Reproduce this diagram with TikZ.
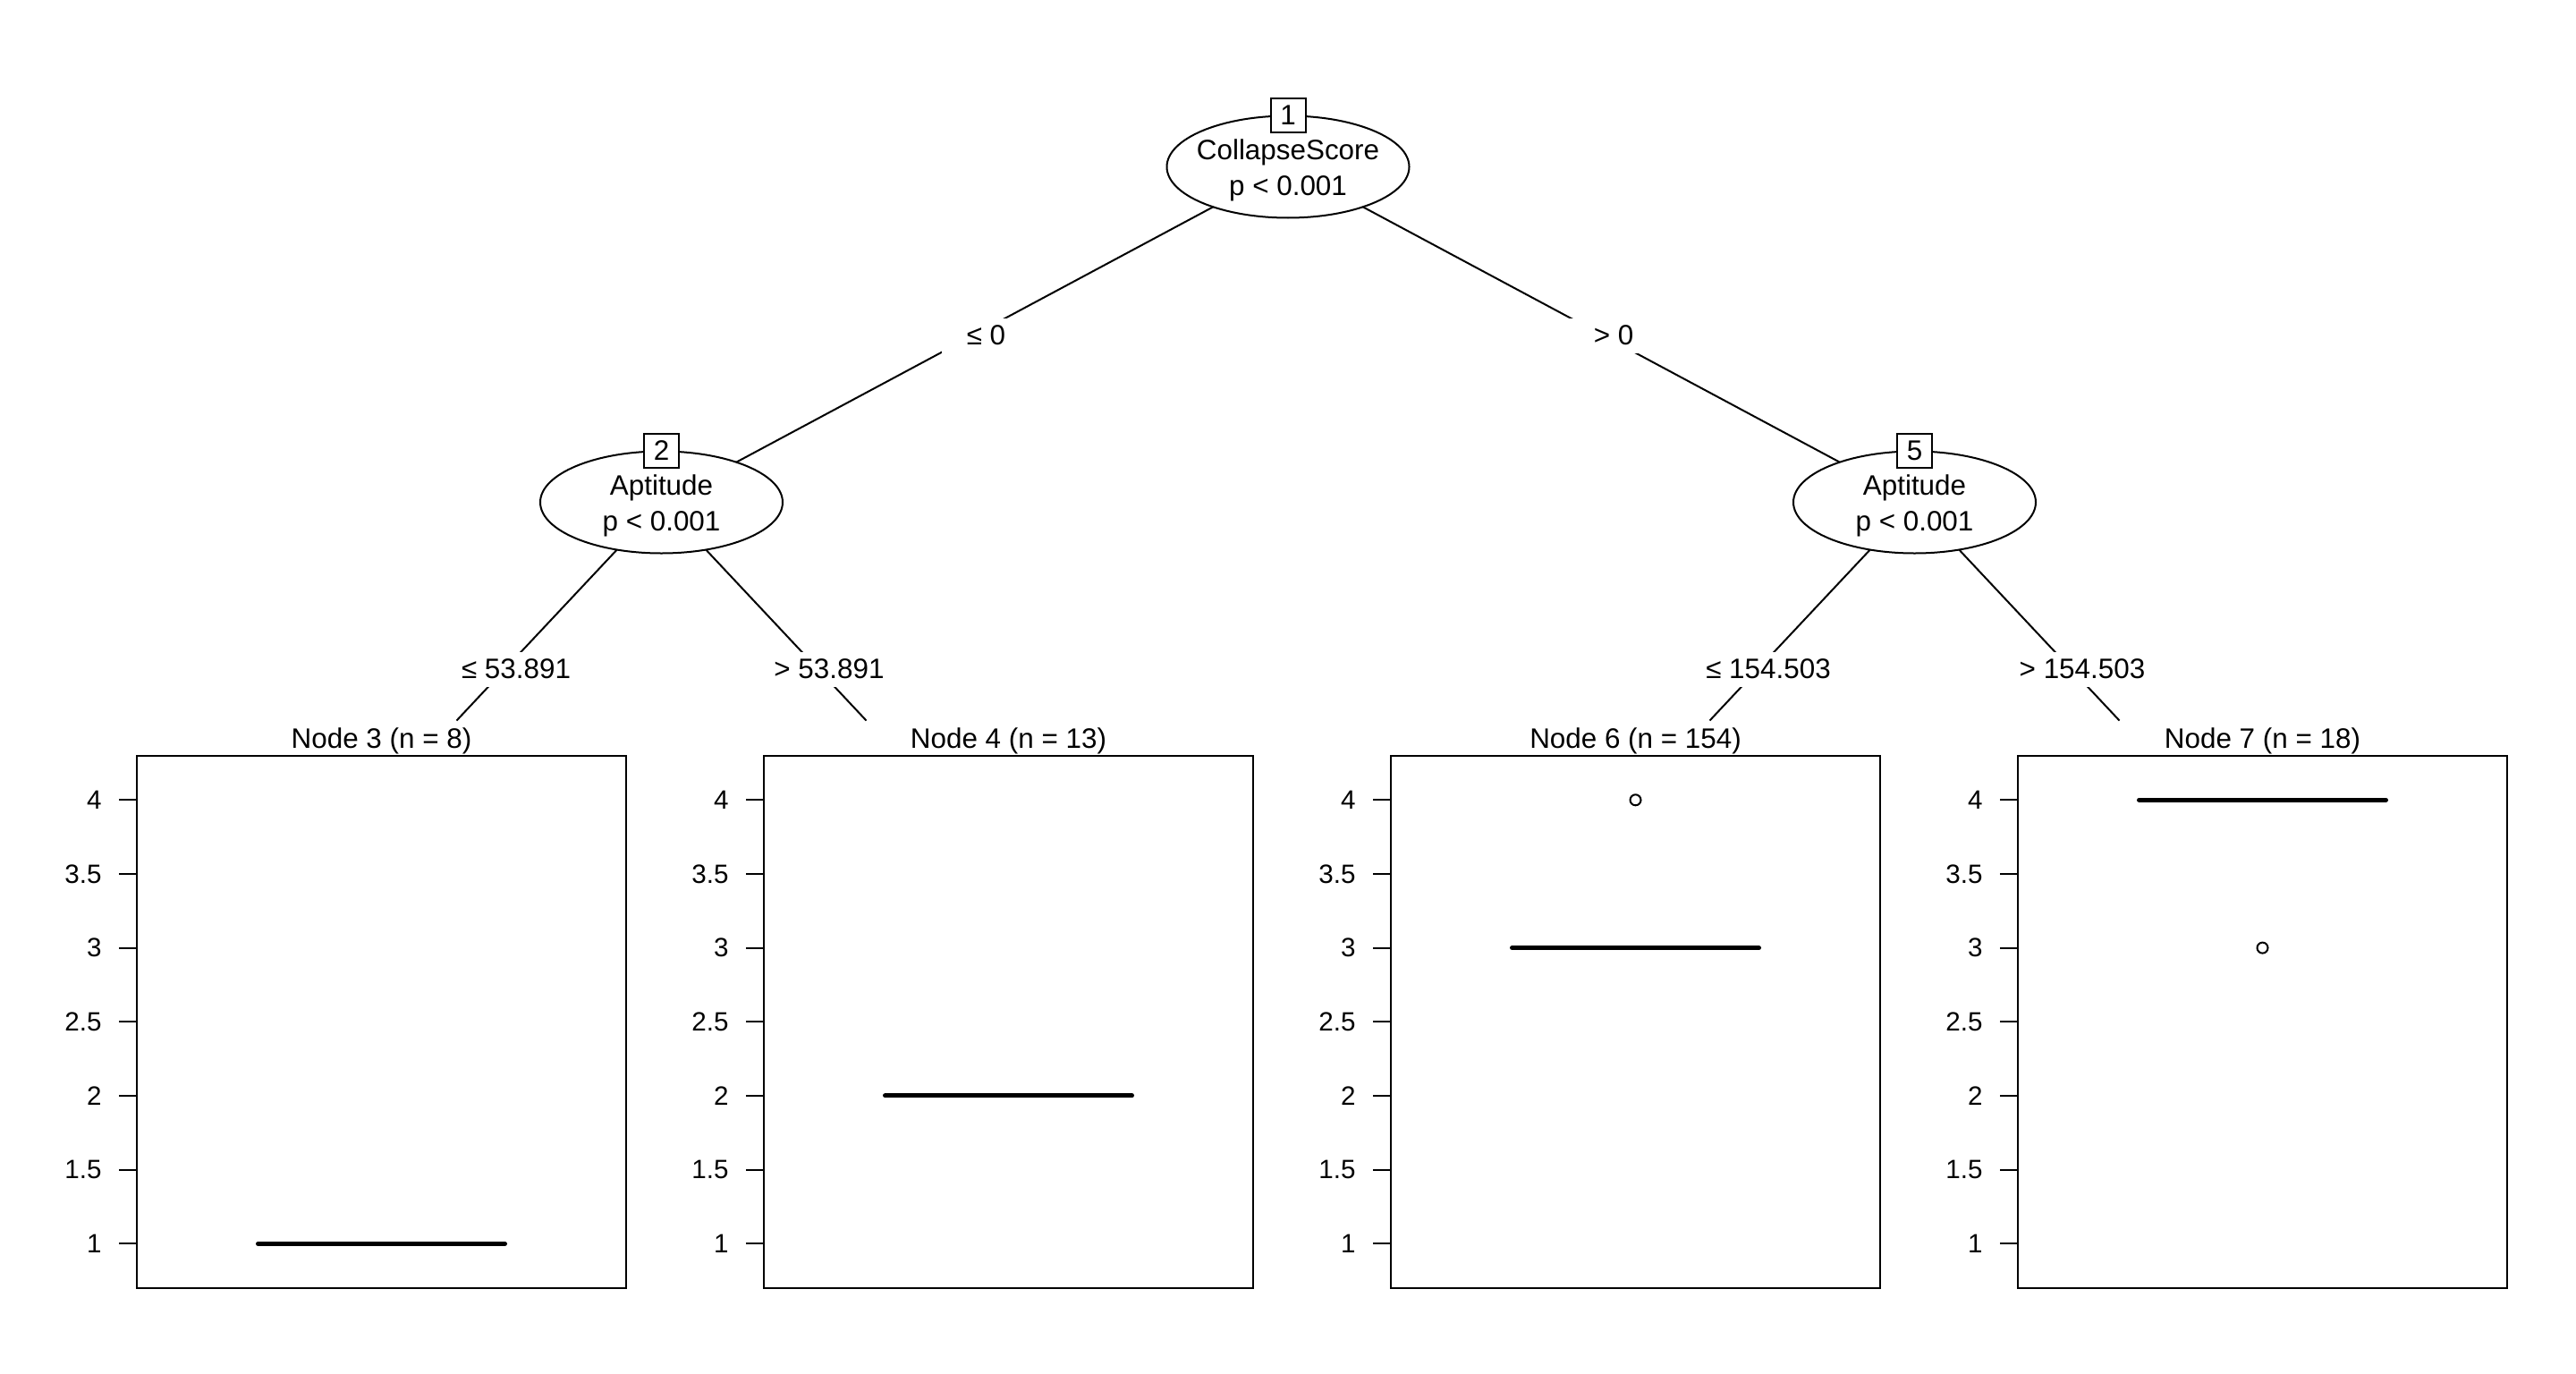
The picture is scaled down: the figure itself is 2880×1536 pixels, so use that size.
\documentclass[tikz,border=0pt]{standalone}
\usepackage{fontspec}
\setmainfont{Liberation Sans}
\usetikzlibrary{shapes.geometric,backgrounds}
\begin{document}
\begin{tikzpicture}[x=0.5pt,y=-0.5pt,
  every node/.style={inner sep=0pt, outer sep=0pt},
  txt/.style={font=\fontsize{15.7pt}{18pt}\selectfont},
  ticklab/.style={font=\fontsize{14.8pt}{17pt}\selectfont, anchor=east},
  splitnode/.style={ellipse, draw, fill=white, line width=1pt, minimum width=135.5pt, minimum height=57pt},
  numbox/.style={draw, fill=white, line width=1pt, minimum width=19.5pt, minimum height=19pt, txt},
  edgelab/.style={fill=white, minimum height=19.5pt, inner xsep=14pt, txt},
  panel/.style={draw, line width=1pt, minimum width=273.5pt, minimum height=297.5pt},
  conn/.style={line width=1pt},
  median/.style={line width=2.5pt, line cap=round},
  outlier/.style={circle, draw, line width=1pt, minimum size=6pt}
]
\useasboundingbox (0,0) rectangle (2880,1536);

% inner nodes
\node[splitnode] (n1) at (1440,186.5) {};
\node[numbox] (b1) at (1440,129) {1};
\node[txt, anchor=base] (n1a) at (1440,178.5) {CollapseScore};
\node[txt, anchor=base] (n1b) at (1440,218) {p < 0.001};

\node[splitnode] (n2) at (739.5,561.5) {};
\node[numbox] (b2) at (739.5,504) {2};
\node[txt, anchor=base] (n2a) at (739.5,553.5) {Aptitude};
\node[txt, anchor=base] (n2b) at (739.5,593) {p < 0.001};

\node[splitnode] (n5) at (2140.5,561.5) {};
\node[numbox] (b5) at (2140.5,504) {5};
\node[txt, anchor=base] (n5a) at (2140.5,553.5) {Aptitude};
\node[txt, anchor=base] (n5b) at (2140.5,593) {p < 0.001};

% edge end points above terminal panels
\coordinate (e3) at (510.5,805.5);
\coordinate (e4) at (968.5,805.5);
\coordinate (e6) at (1911.5,805.5);
\coordinate (e7) at (2369.5,805.5);

\begin{pgfonlayer}{background}
\fill[white] (0,0) rectangle (2880,1536);
\draw[conn] (n1.center) -- (n2.center);
\draw[conn] (n1.center) -- (n5.center);
\draw[conn] (n2.center) -- (e3);
\draw[conn] (n2.center) -- (e4);
\draw[conn] (n5.center) -- (e6);
\draw[conn] (n5.center) -- (e7);
\end{pgfonlayer}

% edge labels
\node[edgelab] (l12) at (1102.5,375) {≤ 0};
\node[edgelab] (l15) at (1804,375) {> 0};
\node[edgelab] (l23) at (577,748) {≤ 53.891};
\node[edgelab] (l24) at (927,748) {> 53.891};
\node[edgelab] (l56) at (1977,748) {≤ 154.503};
\node[edgelab] (l57) at (2328,748) {> 154.503};

% terminal panels
\foreach \cx/\nm/\ttl in {426.5/3/{Node 3 (n = 8)}, 1127.5/4/{Node 4 (n = 13)}, 1828.5/6/{Node 6 (n = 154)}, 2529.5/7/{Node 7 (n = 18)}} {
  \node[panel] (p\nm) at (\cx,1142) {};
  \node[txt, anchor=base] (t\nm) at (\cx,836) {\ttl};
  \pgfmathsetmacro\xl{\cx-273.5}
  \foreach \v [count=\i] in {1,1.5,2,2.5,3,3.5,4} {
    \pgfmathsetmacro\yy{894.3+(4-\v)*165.3}
    \draw[conn] (\xl-20,\yy) -- (\xl,\yy);
    \node[ticklab] (k\nm\i) at (\xl-39.5,\yy) {\v};
  }
}

% medians
\draw[median] (426.5-138,1390.2) -- (426.5+138,1390.2);
\draw[median] (1127.5-138,1224.9) -- (1127.5+138,1224.9);
\draw[median] (1828.5-138,1059.6) -- (1828.5+138,1059.6);
\draw[median] (2529.5-138,894.3) -- (2529.5+138,894.3);

% outliers
\node[outlier] (o6) at (1828.5,894.3) {};
\node[outlier] (o7) at (2529.5,1059.6) {};
\end{tikzpicture}
\end{document}
